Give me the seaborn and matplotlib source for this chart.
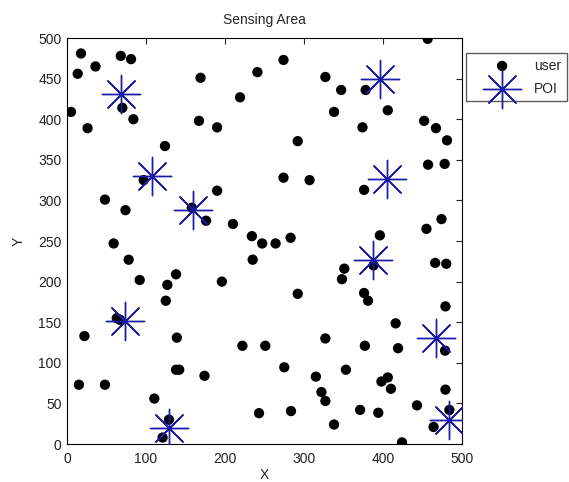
import matplotlib
matplotlib.use("Agg")
import matplotlib.pyplot as plt
import seaborn as sns
import pandas as pd

# user positions
user_x = [13.5, 17.7, 36, 68, 81, 5, 26, 70, 84, 169, 241, 219, 167, 190, 124, 97, 48, 74, 158, 176,
          190, 210, 234, 59, 247, 456.5, 274, 327, 347, 378, 338, 406, 374, 452, 467, 481, 292, 457, 478, 274,
          307, 376, 455, 474, 396, 283, 264, 78, 235, 92, 138, 127, 196, 125, 63, 67, 22, 139, 222, 251,
          138, 142, 174, 15, 48, 110.5, 243, 129, 121, 388, 351, 348, 466, 480, 292, 376, 381, 479, 416, 478.5,
          327, 377, 419, 275, 353, 315, 398, 406, 410, 479, 322, 327, 443, 283.5, 371, 394, 484, 464, 338, 424]
user_y = [456, 481, 465, 478, 474, 409, 389, 414, 400, 451, 458, 427, 398, 390, 367, 325, 301, 288, 291, 275,
          312, 271, 256, 247, 247, 499, 473, 452, 436, 436, 409, 411, 390, 398, 389, 374, 373, 344, 345, 328,
          325, 313, 265, 277, 257, 254, 247, 227, 227, 202, 209, 196, 200, 176.5, 155, 153, 133, 131, 121, 121,
          91.5, 91.5, 84, 73, 73, 56, 38, 30, 8, 220, 216, 203, 223, 222, 185, 186, 176.5, 169.5, 148.6, 115,
          130, 121, 118, 94.5, 91.5, 83, 77, 82, 68, 67, 64, 53, 47.6, 40.6, 42, 38.5, 42, 21, 24, 2]

# points of interest
poi_x = [68, 396, 107, 405, 160, 387, 74, 467.5, 129, 484]
poi_y = [431, 450, 330, 326, 288, 227, 151, 130, 20, 30]

users = pd.DataFrame({"x": user_x, "y": user_y})
pois = pd.DataFrame({"x": poi_x, "y": poi_y})

sns.set_style("white")
plt.rcParams["font.family"] = ["Liberation Sans", "DejaVu Sans"]

fig = plt.figure(figsize=(5.69, 4.82), dpi=100)
ax = fig.add_axes([0.1178, 0.0788, 0.6942, 0.8423])

sns.scatterplot(data=users, x="x", y="y", ax=ax, color="black", s=55, edgecolor="none",
                marker="o", label="user", zorder=3)
sns.scatterplot(data=pois, x="x", y="y", ax=ax, color="#1c1ca8", s=760, marker=(8, 2, 0),
                linewidth=1.0, label="POI", zorder=4)

ax.set_xlim(0, 500)
ax.set_ylim(0, 500)
ax.set_xticks(range(0, 501, 100))
ax.set_yticks(range(0, 501, 50))
ax.tick_params(direction="in", top=True, right=True, length=4, width=0.8, labelsize=10,
               labelcolor="#222222")
ax.tick_params(axis="x", pad=6)
ax.tick_params(axis="y", pad=4)
for s in ax.spines.values():
    s.set_visible(True)
    s.set_color("black")
    s.set_linewidth(0.8)

ax.set_title("Sensing Area", fontsize=10, pad=10)
ax.set_xlabel("X", fontsize=10, labelpad=1)
ax.set_ylabel("Y", fontsize=10, labelpad=9)

leg = ax.legend(loc="upper left", bbox_to_anchor=(1.01, 0.963), frameon=True, fancybox=False,
                fontsize=10, handlelength=4.4, handletextpad=0.1, borderpad=0.4, labelspacing=0.65,
                markerscale=1.0, borderaxespad=0)
leg.get_frame().set_edgecolor("#333333")
leg.get_frame().set_linewidth(1.0)

fig.savefig("out.png", dpi=100)
